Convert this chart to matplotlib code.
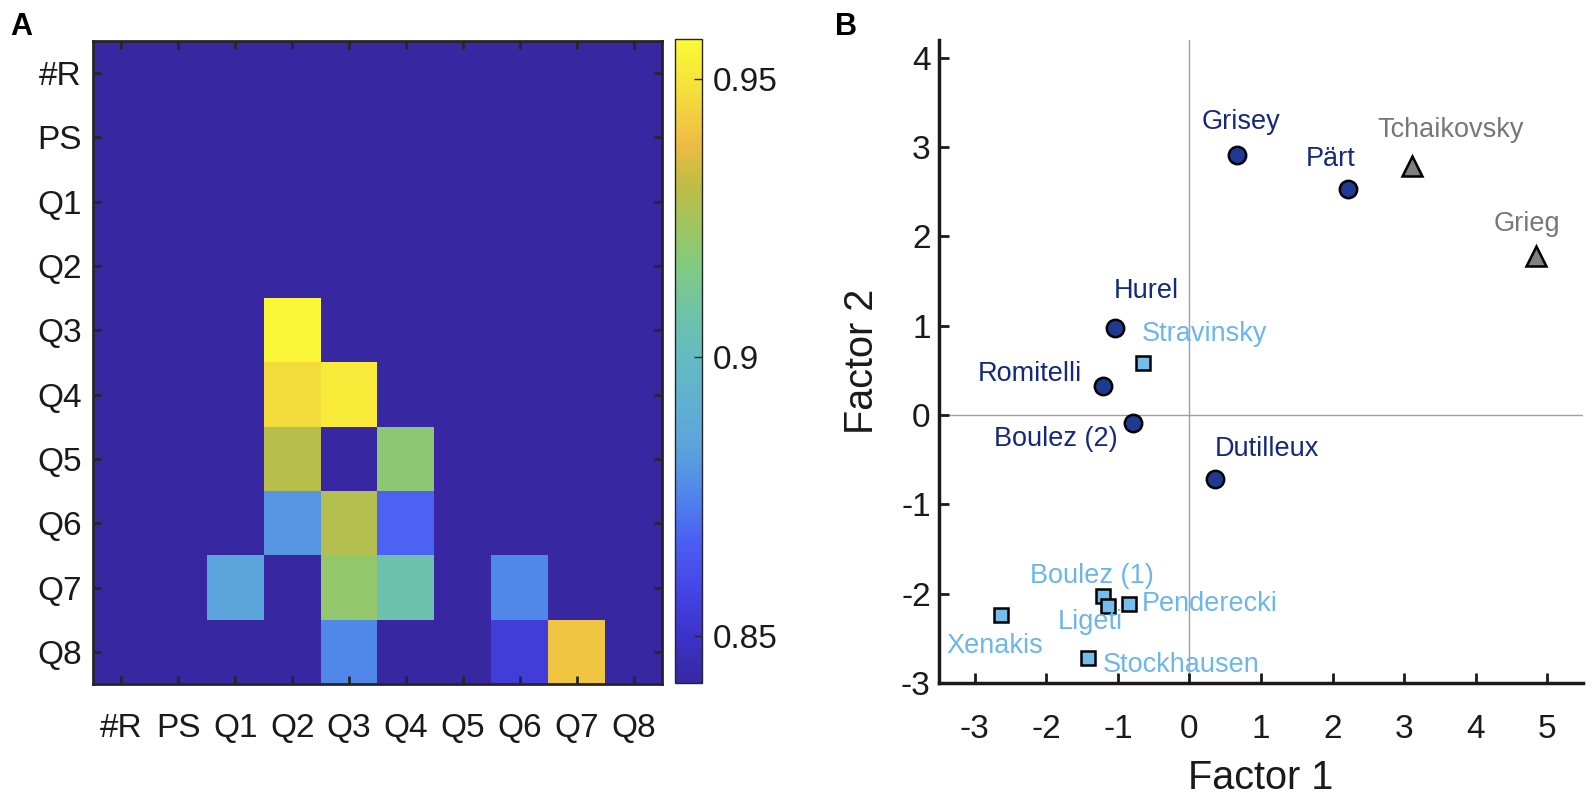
import numpy as np
import matplotlib
matplotlib.use("Agg")
import matplotlib.pyplot as plt
from matplotlib.colors import LinearSegmentedColormap

plt.rcParams['font.family'] = ['Liberation Sans', 'DejaVu Sans']
plt.rcParams['axes.unicode_minus'] = False

# ---------------- data ----------------
labels_hm = ["#R", "PS", "Q1", "Q2", "Q3", "Q4", "Q5", "Q6", "Q7", "Q8"]
# rows = y labels (top to bottom), cols = x labels
corr = [
    [0.84, 0.84, 0.84,  0.84,  0.84,  0.84,  0.84, 0.84,  0.84,  0.84],  # #R
    [0.84, 0.84, 0.84,  0.84,  0.84,  0.84,  0.84, 0.84,  0.84,  0.84],  # PS
    [0.84, 0.84, 0.84,  0.84,  0.84,  0.84,  0.84, 0.84,  0.84,  0.84],  # Q1
    [0.84, 0.84, 0.84,  0.84,  0.84,  0.84,  0.84, 0.84,  0.84,  0.84],  # Q2
    [0.84, 0.84, 0.84,  0.956, 0.84,  0.84,  0.84, 0.84,  0.84,  0.84],  # Q3
    [0.84, 0.84, 0.84,  0.947, 0.952, 0.84,  0.84, 0.84,  0.84,  0.84],  # Q4
    [0.84, 0.84, 0.84,  0.929, 0.84,  0.919, 0.84, 0.84,  0.84,  0.84],  # Q5
    [0.84, 0.84, 0.84,  0.880, 0.928, 0.868, 0.84, 0.84,  0.84,  0.84],  # Q6
    [0.84, 0.84, 0.884, 0.84,  0.921, 0.907, 0.84, 0.876, 0.84,  0.84],  # Q7
    [0.84, 0.84, 0.84,  0.84,  0.876, 0.84,  0.84, 0.855, 0.941, 0.84],  # Q8
]
clim = (0.8415, 0.9572)
cbar_ticks = [0.85, 0.9, 0.95]

names_dark = ["Grisey", "Pärt", "Hurel", "Romitelli", "Boulez (2)", "Dutilleux"]
f1_dark = [0.67, 2.22, -1.045, -1.215, -0.79, 0.36]
f2_dark = [2.91, 2.53, 0.98, 0.33, -0.085, -0.715]

names_light = ["Stravinsky", "Boulez (1)", "Ligeti", "Penderecki", "Xenakis", "Stockhausen"]
f1_light = [-0.655, -1.215, -1.137, -0.845, -2.634, -1.42]
f2_light = [0.58, -2.022, -2.138, -2.115, -2.239, -2.72]

names_gray = ["Tchaikovsky", "Grieg"]
f1_gray = [3.105, 4.84]
f2_gray = [2.79, 1.785]

# label offsets in pixels (dx, dy)
off_dark = [(4, 33), (-18, 30), (32, 37), (-73, 12), (-77, -16), (52, 30)]
off_light = [(62, 29), (-11, 20), (-18, -16), (81, 0), (-6, -31), (93, -7)]
off_gray = [(39, 36), (-9, 32)]

# parula-like colormap, sampled from the reference colorbar
cmap_pos = [0.0, 0.07, 0.14, 0.22, 0.295, 0.37, 0.5, 0.565, 0.65, 0.71, 0.78, 0.84, 0.92, 1.0]
cmap_rgb = [(55, 40, 162), (60, 50, 200), (68, 68, 228), (75, 95, 245), (80, 135, 235),
            (92, 165, 220), (100, 186, 195), (108, 194, 172), (130, 203, 128),
            (160, 196, 95), (195, 188, 68), (238, 188, 68), (245, 222, 60), (250, 250, 55)]
parula = LinearSegmentedColormap.from_list(
    "parula_ref", [(p, tuple(c / 255 for c in rgb)) for p, rgb in zip(cmap_pos, cmap_rgb)], N=256)

dark_face = "#1f3a93"
dark_text = "#14297d"
light_face = "#74bdec"
light_text = "#6cb6e8"
gray_face = "#808080"
gray_text = "#777777"
axcol = "#262626"

fig = plt.figure(figsize=(15.92, 7.96), dpi=100)

# ---------------- panel A ----------------
ax1 = fig.add_axes([93 / 1592, 112 / 796, 569 / 1592, 643 / 796])
im = ax1.imshow(np.array(corr), cmap=parula, vmin=clim[0], vmax=clim[1],
                aspect="auto", interpolation="nearest")
ax1.set_xticks(range(len(labels_hm)))
ax1.set_yticks(range(len(labels_hm)))
ax1.set_xticklabels(labels_hm)
ax1.set_yticklabels(labels_hm)
ax1.tick_params(direction="in", length=6, width=2, top=True, right=True,
                labelsize=24, colors=axcol, labelcolor="#1a1a1a", pad=8)
ax1.tick_params(axis="x", pad=21)
for s in ax1.spines.values():
    s.set_linewidth(2)
    s.set_color(axcol)

cax = fig.add_axes([675 / 1592, 113 / 796, 27 / 1592, 644 / 796])
cb = fig.colorbar(im, cax=cax, ticks=cbar_ticks)
cb.ax.set_yticklabels(["0.85", "0.9", "0.95"])
cb.ax.tick_params(direction="in", length=6, width=1, labelsize=24, colors=axcol,
                  labelcolor="#1a1a1a", pad=8)
cb.outline.set_edgecolor(axcol)
cb.outline.set_linewidth(1)

fig.text(21 / 1592, 1 - 27 / 796, "A", fontsize=22, fontweight="bold",
         ha="center", va="center")
fig.text(846 / 1592, 1 - 27 / 796, "B", fontsize=22, fontweight="bold",
         ha="center", va="center")

# ---------------- panel B ----------------
ax2 = fig.add_axes([939 / 1592, 113 / 796, 644 / 1592, 643 / 796])
ax2.axhline(0, color="#a0a0a0", lw=1, zorder=0)
ax2.axvline(0, color="#a0a0a0", lw=1, zorder=0)

ax2.plot(f1_dark, f2_dark, "o", ms=12.5, mfc=dark_face, mec="black", mew=1.8,
         linestyle="none", zorder=3)
ax2.plot(f1_light, f2_light, "s", ms=10, mfc=light_face, mec="black", mew=1.8,
         linestyle="none", zorder=3)
ax2.plot(f1_gray, f2_gray, "^", ms=14, mfc=gray_face, mec="black", mew=1.8,
         linestyle="none", zorder=3)

for names, xs, ys, offs, col in [
        (names_dark, f1_dark, f2_dark, off_dark, dark_text),
        (names_light, f1_light, f2_light, off_light, light_text),
        (names_gray, f1_gray, f2_gray, off_gray, gray_text)]:
    for n, x, y, o in zip(names, xs, ys, offs):
        ax2.annotate(n, (x, y), xytext=o, textcoords="offset pixels",
                     ha="center", va="center", fontsize=19.5, color=col, zorder=4)

ax2.set_xlim(-3.5, 5.5)
ax2.set_ylim(-3, 4.2)
ax2.set_xticks(range(-3, 6))
ax2.set_yticks(range(-3, 5))
ax2.spines["top"].set_visible(False)
ax2.spines["right"].set_visible(False)
for s in ["left", "bottom"]:
    ax2.spines[s].set_linewidth(2.5)
    ax2.spines[s].set_color("#1a1a1a")
ax2.tick_params(direction="in", length=7, width=2, labelsize=24,
                colors="#1a1a1a", pad=6)
ax2.tick_params(axis="x", pad=22)
ax2.set_xlabel("Factor 1", fontsize=28.5, color="#1a1a1a")
ax2.set_ylabel("Factor 2", fontsize=28.5, color="#1a1a1a")
ax2.xaxis.set_label_coords(0.5, -0.118)
ax2.yaxis.set_label_coords(-0.09, 0.5)

fig.savefig("out.png", dpi=100)
